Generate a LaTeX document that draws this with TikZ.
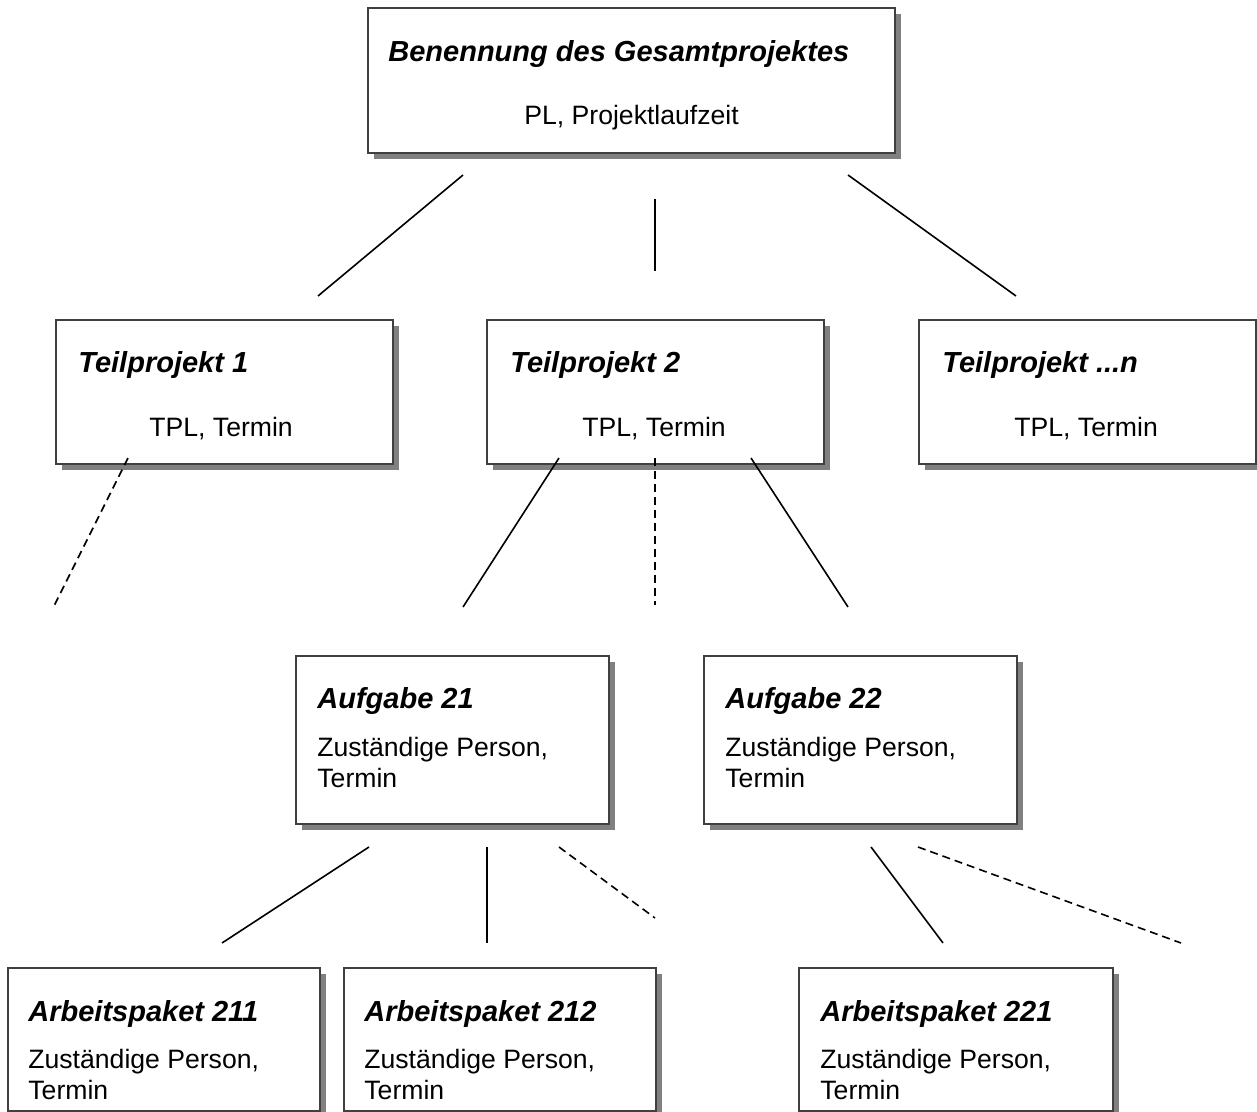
\documentclass[tikz,border=0pt]{standalone}
\usepackage{fontspec}
\setmainfont{Liberation Sans}
\usetikzlibrary{shadows}

\tikzset{
  box/.style={draw=black!75, line width=0.8pt, fill=white, inner sep=0pt, anchor=north west,
    drop shadow={shadow xshift=3pt, shadow yshift=-3pt, fill=black!50, opacity=1}},
  head/.style={anchor=base west, inner sep=0pt, font=\fontsize{14.5}{16}\selectfont\bfseries\itshape},
  info/.style={anchor=base west, inner sep=0pt, font=\fontsize{13.3}{15.5}\selectfont},
  link/.style={line width=0.8pt},
  maybe/.style={link, dash pattern=on 4pt off 2.5pt}
}

\def\px{0.5pt}

\begin{document}
\begin{tikzpicture}[x=0.5pt, y=-0.5pt]

\useasboundingbox (0,0) rectangle (1257,1112);

% Gesamtprojekt
\node[box, minimum width=527*\px, minimum height=145*\px] (top) at (367,7) {};
\node[head] (top-h) at (388,62) {Benennung des Gesamtprojektes};
\node[info] (top-i) at (524,125) {PL, Projektlaufzeit};

% Teilprojekte
\node[box, minimum width=337*\px, minimum height=144*\px] (tp1) at (55,319) {};
\node[head] (tp1-h) at (78,372) {Teilprojekt 1};
\node[info] (tp1-i) at (149,437) {TPL, Termin};

\node[box, minimum width=337*\px, minimum height=144*\px] (tp2) at (486,319) {};
\node[head] (tp2-h) at (510,372) {Teilprojekt 2};
\node[info] (tp2-i) at (582,437) {TPL, Termin};

\node[box, minimum width=337*\px, minimum height=144*\px] (tpn) at (918,319) {};
\node[head] (tpn-h) at (942,372) {Teilprojekt ...n};
\node[info] (tpn-i) at (1014,437) {TPL, Termin};

% Aufgaben
\node[box, minimum width=313*\px, minimum height=168*\px] (a21) at (295,655) {};
\node[head] (a21-h) at (317,708) {Aufgabe 21};
\node[info] (a21-i) at (317,756) {Zuständige Person,};
\node[info] (a21-t) at (317,787) {Termin};

\node[box, minimum width=313*\px, minimum height=168*\px] (a22) at (703,655) {};
\node[head] (a22-h) at (725,708) {Aufgabe 22};
\node[info] (a22-i) at (725,756) {Zuständige Person,};
\node[info] (a22-t) at (725,787) {Termin};

% Arbeitspakete
\node[box, minimum width=312*\px, minimum height=143*\px] (ap211) at (7,967) {};
\node[head] (ap211-h) at (28,1021) {Arbeitspaket 211};
\node[info] (ap211-i) at (28,1068) {Zuständige Person,};
\node[info] (ap211-t) at (28,1099) {Termin};

\node[box, minimum width=312*\px, minimum height=143*\px] (ap212) at (343,967) {};
\node[head] (ap212-h) at (364,1021) {Arbeitspaket 212};
\node[info] (ap212-i) at (364,1068) {Zuständige Person,};
\node[info] (ap212-t) at (364,1099) {Termin};

\node[box, minimum width=314*\px, minimum height=143*\px] (ap221) at (798,967) {};
\node[head] (ap221-h) at (820,1021) {Arbeitspaket 221};
\node[info] (ap221-i) at (820,1068) {Zuständige Person,};
\node[info] (ap221-t) at (820,1099) {Termin};

% line ends
\coordinate (top-a) at (463,175);  \coordinate (tp1-b) at (318,296);
\coordinate (top-c) at (655,199);  \coordinate (tp2-b) at (655,271);
\coordinate (top-d) at (848,175);  \coordinate (tpn-b) at (1016,296);
\coordinate (tp1-a) at (128,458);  \coordinate (tp1-x) at (53,608);
\coordinate (tp2-a) at (559,458);  \coordinate (a21-b) at (463,607);
\coordinate (tp2-c) at (655,458);  \coordinate (tp2-x) at (655,605);
\coordinate (tp2-d) at (751,458);  \coordinate (a22-b) at (848,607);
\coordinate (a21-a) at (369,847);  \coordinate (ap211-b) at (222,943);
\coordinate (a21-c) at (487,847);  \coordinate (ap212-b) at (487,943);
\coordinate (a21-d) at (559,847);  \coordinate (a21-x) at (655,918);
\coordinate (a22-a) at (871,847);  \coordinate (ap221-b) at (943,943);
\coordinate (a22-c) at (918,847);  \coordinate (a22-x) at (1181,943);

% connectors
\draw[link] (top-a) -- (tp1-b);
\draw[link] (top-c) -- (tp2-b);
\draw[link] (top-d) -- (tpn-b);
\draw[maybe] (tp1-a) -- (tp1-x);
\draw[link] (tp2-a) -- (a21-b);
\draw[maybe] (tp2-c) -- (tp2-x);
\draw[link] (tp2-d) -- (a22-b);
\draw[link] (a21-a) -- (ap211-b);
\draw[link] (a21-c) -- (ap212-b);
\draw[maybe] (a21-d) -- (a21-x);
\draw[link] (a22-a) -- (ap221-b);
\draw[maybe] (a22-c) -- (a22-x);

\end{tikzpicture}
\end{document}
